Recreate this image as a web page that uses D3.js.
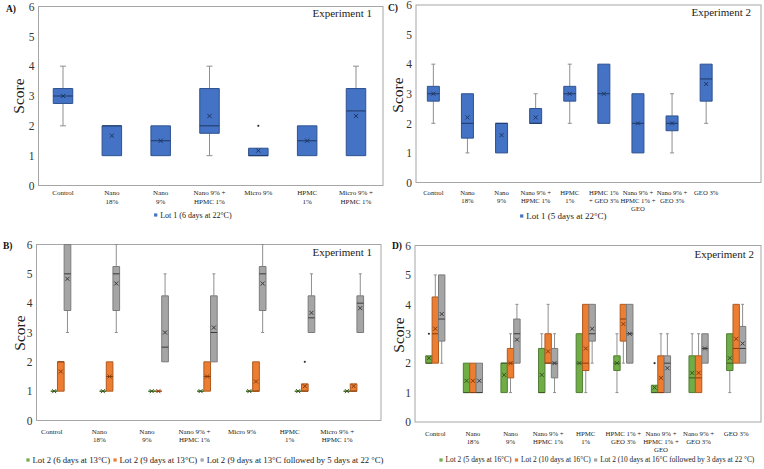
<!DOCTYPE html>
<html><head><meta charset="utf-8">
<script src="https://cdn.jsdelivr.net/npm/d3@7"></script>
<style>body{margin:0;background:#fff}svg{display:block}</style>
</head><body><svg id="c" width="764" height="469"></svg>
<script>
// ---------- DATA ----------
const yTicks = [0, 1, 2, 3, 4, 5, 6];
const catsExp1 = ["Control", "Nano\n18%", "Nano\n9%", "Nano 9% +\nHPMC 1%", "Micro 9%", "HPMC\n1%", "Micro 9% +\nHPMC 1%"];
const catsExp2C = ["Control", "Nano\n18%", "Nano\n9%", "Nano 9% +\nHPMC 1%", "HPMC\n1%", "HPMC 1%\n+ GEO 3%", "Nano 9% +\nHPMC 1% +\nGEO", "Nano 9% +\nGEO 3%", "GEO 3%"];
const catsExp2D = ["Control", "Nano\n18%", "Nano\n9%", "Nano 9% +\nHPMC 1%", "HPMC\n1%", "HPMC 1% +\nGEO 3%", "Nano 9% +\nHPMC 1% +\nGEO", "Nano 9% +\nGEO 3%", "GEO 3%"];

// each entry: [lower whisker, Q1, median, Q3, upper whisker, mean]
const exp1Lot1_6d22 = [[2,2.75,3,3.25,4,3],[1,1,2,2,2,1.67],[1,1,1.5,2,2,1.5],[1,1.75,2,3.25,4,2.33],[1,1,1,1.25,1.25,1.17],[1,1,1.5,2,2,1.5],[1,1,2.5,3.25,4,2.33]];
const exp1Lot1_6d22Out = [[],[],[],[],[2],[],[]];

const exp1Lot2_6d13 = [[1,1,1,1,1,1],[1,1,1,1,1,1],[1,1,1,1,1,1],[1,1,1,1,1,1],[1,1,1,1,1,1],[1,1,1,1,1,1],[1,1,1,1,1,1]];
const exp1Lot2_9d13 = [[1,1,2,2,2,1.67],[1,1,1.5,2,2,1.5],[1,1,1,1,1,1],[1,1,1.5,2,2,1.5],[1,1,1,2,2,1.33],[1,1,1,1.25,1.25,1.17],[1,1,1,1.25,1.25,1.17]];
const exp1Lot2_9d13Out = [[],[],[],[],[],[2],[]];
const exp1Lot2_9d13_5d22 = [[3,3.75,5,6,6,4.83],[3,3.75,5,5.25,6,4.67],[2,2,2.5,4.25,5,3],[2,2,3,4.25,5,3.17],[3,3.75,5,5.25,6,4.67],[3,3,3.5,4.25,5,3.67],[3,3,4,4.25,5,3.83]];

const exp2Lot1_5d22 = [[2,2.75,3,3.25,4,3],[1,1.5,2,3,3,2.2],[1,1,2,2,2,1.6],[2,2,2,2.5,3,2.2],[2,2.75,3,3.25,4,3],[2,2,3,4,4,3],[1,1,2,3,3,2],[1,1.75,2,2.25,3,2],[2,2.75,3.5,4,4,3.33]];

const exp2Lot2_5d16 = [[2,2,2,2.25,2.25,2.17],[1,1,1,2,2,1.4],[1,1,2,2,2,1.6],[1,1,1,2.5,3,1.6],[1,1,2,3,3,2],[1,1.75,2,2.25,3,2],[1,1,1,1.25,1.25,1.17],[1,1,1.5,2.25,3,1.67],[1,1.75,2,3,3,2.17]];
const exp2Lot2_5d16Out = [[3],[],[],[],[],[],[2],[],[]];
const exp2Lot2_10d16 = [[2,2,3,4.25,5,3.17],[1,1,1,2,2,1.4],[1,1.5,2,2.5,3,2],[2,2,2,3,4,2.4],[1,1.75,2,4,4,2.5],[2,2.75,3.5,4,4,3.33],[1,1,1,2.25,3,1.5],[1,1,1.5,2.25,3,1.67],[2,2,2.5,4,4,2.83]];
const exp2Lot2_10d16_3d22 = [[2,2.75,3.5,5,5,3.67],[1,1,1,2,2,1.4],[2,2,3,3.5,4,2.8],[1,1.5,2,2.5,3,2],[2,2.75,3,4,4,3.17],[2,2,3,4,4,3],[1,1,2,2.25,3,1.83],[2,2,2.5,3,3,2.5],[2,2,2.5,3.25,4,2.67]];

const legendA = ["Lot 1 (6 days at 22°C)"];
const legendB = ["Lot 2 (6 days at 13°C)", "Lot 2 (9 days at 13°C)", "Lot 2 (9 days at 13°C followed by 5 days at 22 °C)"];
const legendC = ["Lot 1 (5 days at 22°C)"];
const legendD = ["Lot 2 (5 days at 16°C)", "Lot 2 (10 days at 16°C)", "Lot 2 (10 days at 16°C followed by 3 days at 22 °C)"];

// ---------- STYLE ----------
const FONT = "'Liberation Serif'";
const BLUE = {fill:"#4472C4", stroke:"#2F528F", dark:"#1F3864"};
const GREEN = {fill:"#70AD47", stroke:"#507E32", dark:"#385723"};
const ORANGE = {fill:"#ED7D31", stroke:"#AE5A21", dark:"#843C0C"};
const GRAY = {fill:"#A5A5A5", stroke:"#7B7B7B", dark:"#3A3A3A"};
const WHISK = "#8f8f8f";
const FRAME = "#a6a6a6";

const svg = d3.select("#c");

function txt(sel, size) {
  return sel.style("font-family", FONT).style("font-size", size + "px");
}

function drawPanel(o) {
  const g = svg.append("g");
  const y = d3.scaleLinear().domain([0, 6]).range([o.y0, o.y6]);
  const x = d3.scaleBand().domain(d3.range(o.cats.length)).range(o.xRange);
  const lx = o.labelRange ? d3.scaleBand().domain(d3.range(o.cats.length)).range(o.labelRange) : x;
  const ns = o.series.length;
  const sub = d3.scaleBand().domain(d3.range(ns)).range([-o.groupW / 2, o.groupW / 2]);

  g.append("rect").attr("x", o.frameL).attr("y", o.y6)
    .attr("width", o.frameR - o.frameL).attr("height", o.y0 - o.y6)
    .attr("fill", "none").attr("stroke", FRAME).attr("stroke-width", 1);

  const ax = g.append("g").attr("transform", `translate(${o.frameL},0)`)
    .call(d3.axisLeft(y).tickValues(yTicks).tickSize(0).tickPadding(o.tickPad).tickFormat(d3.format("d")));
  ax.select(".domain").remove();
  txt(ax.selectAll("text"), 11.5).attr("fill", "#333");

  o.series.forEach((s, si) => {
    const bw = ns > 1 ? sub.bandwidth() : o.boxW;
    const cxOf = i => x(i) + x.bandwidth() / 2 + (ns > 1 ? sub(si) + sub.bandwidth() / 2 : 0);
    const sg = g.append("g");
    s.values.forEach((v, i) => {
      const [lo, q1, med, q3, hi, mean] = v;
      const cx = cxOf(i);
      const cap = o.capW / 2;
      if (hi > q3) {
        sg.append("line").attr("x1", cx).attr("x2", cx).attr("y1", y(q3)).attr("y2", y(hi)).attr("stroke", WHISK).attr("stroke-width", 1);
        sg.append("line").attr("x1", cx - cap).attr("x2", cx + cap).attr("y1", y(hi)).attr("y2", y(hi)).attr("stroke", WHISK).attr("stroke-width", 1);
      }
      if (lo < q1) {
        sg.append("line").attr("x1", cx).attr("x2", cx).attr("y1", y(q1)).attr("y2", y(lo)).attr("stroke", WHISK).attr("stroke-width", 1);
        sg.append("line").attr("x1", cx - cap).attr("x2", cx + cap).attr("y1", y(lo)).attr("y2", y(lo)).attr("stroke", WHISK).attr("stroke-width", 1);
      }
      const x0 = cx - bw / 2, x1 = cx + bw / 2;
      sg.append("path").attr("d", `M${x0},${y(q1)}H${x1}V${y(q3)}H${x0}Z`)
        .attr("fill", s.color.fill).attr("stroke", q1 === q3 ? s.color.fill : s.color.stroke).attr("stroke-width", q1 === q3 ? 1.5 : 1);
      sg.append("line").attr("x1", x0).attr("x2", x1).attr("y1", y(med)).attr("y2", y(med))
        .attr("stroke", s.color.dark).attr("stroke-width", 1);
      const m = o.markR;
      sg.append("path").attr("transform", `translate(${cx},${y(mean)})`)
        .attr("d", `M${-m},${-m}L${m},${m}M${-m},${m}L${m},${-m}`)
        .attr("stroke", s.color.dark).attr("stroke-width", 1).attr("fill", "none");
      (s.outliers ? s.outliers[i] : []).forEach(ov => {
        sg.append("circle").attr("cx", cx).attr("cy", y(ov)).attr("r", 1.1).attr("fill", "#333");
      });
    });
  });

  o.cats.forEach((c, i) => {
    const t = txt(g.append("text"), o.catFont)
      .attr("fill", "#222").attr("text-anchor", "middle")
      .attr("x", lx(i) + lx.bandwidth() / 2).attr("y", o.labelY);
    c.split("\n").forEach((line, li) => {
      t.append("tspan").attr("x", lx(i) + lx.bandwidth() / 2).attr("dy", li === 0 ? 0 : o.lineH).text(line);
    });
  });

  txt(g.append("text"), 15.5).attr("fill", "#222").attr("text-anchor", "middle")
    .attr("transform", `translate(${o.scoreX},${o.scoreY}) rotate(-90)`).text("Score");

  txt(g.append("text"), 9.5).style("font-weight", "bold")
    .attr("fill", "#111").attr("x", o.letterX).attr("y", o.letterY).text(o.letter);

  txt(g.append("text"), 11).attr("fill", "#222")
    .attr("text-anchor", "end").attr("x", o.expX).attr("y", o.expY).text(o.exp);

  let cx = o.legX;
  o.series.forEach((s, si) => {
    g.append("rect").attr("x", cx - 1.6).attr("y", o.legY - 1.6).attr("width", 3.2).attr("height", 3.2).attr("fill", s.color.fill);
    const t = txt(g.append("text"), o.legFont).attr("fill", "#222")
      .attr("x", cx + 4.5).attr("y", o.legY + o.legFont * 0.33).text(o.legend[si]);
    cx = cx + 4.5 + t.node().getComputedTextLength() + o.legGap;
  });
}

drawPanel({
  cats: catsExp1, series: [{values: exp1Lot1_6d22, outliers: exp1Lot1_6d22Out, color: BLUE}],
  y0: 185.5, y6: 6.5, xRange: [38.6, 380.4], frameL: 38.5, frameR: 383,
  groupW: 19.5, boxW: 19.5, capW: 6, markR: 2.1, tickPad: 4,
  catFont: 7, labelY: 195, lineH: 8.5,
  scoreX: 24, scoreY: 96, letter: "A)", letterX: 6, letterY: 12,
  exp: "Experiment 1", expX: 372, expY: 17,
  legend: legendA, legX: 155.7, legY: 215, legFont: 8, legGap: 6
});
drawPanel({
  cats: catsExp2C, series: [{values: exp2Lot1_5d22, color: BLUE}],
  y0: 182.5, y6: 5, xRange: [416.3, 723.2], frameL: 416, frameR: 761,
  groupW: 12, boxW: 12, capW: 4, markR: 2, tickPad: 4,
  catFont: 6.7, labelY: 195, lineH: 8,
  scoreX: 403, scoreY: 95, letter: "C)", letterX: 388, letterY: 11,
  exp: "Experiment 2", expX: 751, expY: 16,
  legend: legendC, legX: 521.7, legY: 216, legFont: 9, legGap: 6
});
drawPanel({
  cats: catsExp1, series: [
    {values: exp1Lot2_6d13, color: GREEN},
    {values: exp1Lot2_9d13, outliers: exp1Lot2_9d13Out, color: ORANGE},
    {values: exp1Lot2_9d13_5d22, color: GRAY}],
  y0: 420.5, y6: 244.5, xRange: [36.4, 378], labelRange: [28, 361], frameL: 36.5, frameR: 381,
  groupW: 20, boxW: 6.6, capW: 3, markR: 2, tickPad: 4,
  catFont: 7, labelY: 434, lineH: 8.3,
  scoreX: 25, scoreY: 333, letter: "B)", letterX: 3, letterY: 249,
  exp: "Experiment 1", expX: 372, expY: 255.5,
  legend: legendB, legX: 28, legY: 460, legFont: 8.7, legGap: 5
});
drawPanel({
  cats: catsExp2D, series: [
    {values: exp2Lot2_5d16, outliers: exp2Lot2_5d16Out, color: GREEN},
    {values: exp2Lot2_10d16, color: ORANGE},
    {values: exp2Lot2_10d16_3d22, color: GRAY}],
  y0: 422, y6: 245.5, xRange: [416.5, 755], frameL: 415, frameR: 761,
  groupW: 19.2, boxW: 6.4, capW: 3, markR: 2, tickPad: 4,
  catFont: 6.8, labelY: 435.5, lineH: 8,
  scoreX: 404, scoreY: 335, letter: "D)", letterX: 392, letterY: 249,
  exp: "Experiment 2", expX: 754, expY: 258,
  legend: legendD, legX: 441, legY: 460, legFont: 7.4, legGap: 5
});
</script>
</body></html>
